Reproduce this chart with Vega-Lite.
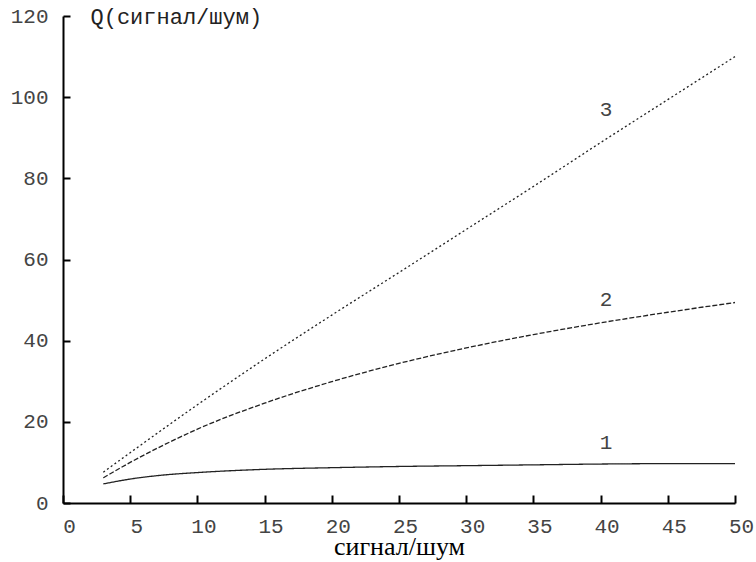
{
  "$schema": "https://vega.github.io/schema/vega-lite/v6.json",
  "width": 672,
  "height": 487,
  "autosize": "none",
  "padding": {"left": 63, "top": 16, "right": 21, "bottom": 59},
  "background": "white",
  "config": {"view": {"stroke": null}},
  "datasets": {
    "curves": [
      {"x": 3, "q": 4.7, "curve": "1"}, {"x": 5, "q": 5.9, "curve": "1"}, {"x": 7.5, "q": 6.9, "curve": "1"}, {"x": 10, "q": 7.5, "curve": "1"}, {"x": 15, "q": 8.3, "curve": "1"}, {"x": 20, "q": 8.7, "curve": "1"}, {"x": 25, "q": 9.0, "curve": "1"}, {"x": 30, "q": 9.2, "curve": "1"}, {"x": 35, "q": 9.4, "curve": "1"}, {"x": 40, "q": 9.6, "curve": "1"}, {"x": 45, "q": 9.7, "curve": "1"}, {"x": 50, "q": 9.7, "curve": "1"},
      {"x": 3, "q": 6.2, "curve": "2"}, {"x": 5, "q": 10.0, "curve": "2"}, {"x": 7.5, "q": 14.3, "curve": "2"}, {"x": 10, "q": 18.2, "curve": "2"}, {"x": 15, "q": 24.6, "curve": "2"}, {"x": 20, "q": 29.9, "curve": "2"}, {"x": 25, "q": 34.4, "curve": "2"}, {"x": 30, "q": 38.2, "curve": "2"}, {"x": 35, "q": 41.5, "curve": "2"}, {"x": 40, "q": 44.4, "curve": "2"}, {"x": 45, "q": 47.0, "curve": "2"}, {"x": 50, "q": 49.4, "curve": "2"},
      {"x": 3, "q": 7.6, "curve": "3"}, {"x": 5, "q": 12.4, "curve": "3"}, {"x": 10, "q": 24.2, "curve": "3"}, {"x": 15, "q": 35.5, "curve": "3"}, {"x": 20, "q": 46.3, "curve": "3"}, {"x": 25, "q": 56.8, "curve": "3"}, {"x": 30, "q": 67.4, "curve": "3"}, {"x": 35, "q": 78.0, "curve": "3"}, {"x": 40, "q": 88.8, "curve": "3"}, {"x": 45, "q": 99.4, "curve": "3"}, {"x": 50, "q": 110.0, "curve": "3"}
    ],
    "labels": [
      {"x": 40.4, "q": 14.8, "label": "1"},
      {"x": 40.4, "q": 50.0, "label": "2"},
      {"x": 40.4, "q": 96.8, "label": "3"}
    ]
  },
  "layer": [
    {
      "data": {"name": "curves"},
      "mark": {"type": "line", "interpolate": "monotone", "color": "#222222"},
      "encoding": {
        "x": {
          "field": "x", "type": "quantitative",
          "scale": {"domain": [0, 50], "nice": false, "zero": false},
          "axis": {
            "values": [0, 5, 10, 15, 20, 25, 30, 35, 40, 45, 50],
            "grid": false,
            "domainColor": "#000000", "domainWidth": 2,
            "tickColor": "#000000", "tickWidth": 2, "tickSize": -8,
            "labelFont": "Liberation Mono", "labelFontSize": 21, "labelColor": "#444444",
            "labelPadding": 20, "labelOffset": 6, "labelFlush": false, "labelBaseline": "top",
            "title": "сигнал/шум",
            "titleFont": "Liberation Serif", "titleFontSize": 26, "titleFontWeight": "normal", "titleColor": "#000000",
            "titleBaseline": "alphabetic", "titleY": 51, "titleX": 336, "titleAlign": "center"
          }
        },
        "y": {
          "field": "q", "type": "quantitative",
          "scale": {"domain": [0, 120], "nice": false},
          "axis": {
            "values": [0, 20, 40, 60, 80, 100, 120],
            "grid": false,
            "domainColor": "#000000", "domainWidth": 2,
            "tickColor": "#000000", "tickWidth": 2, "tickSize": -7,
            "labelFont": "Liberation Mono", "labelFontSize": 21, "labelColor": "#444444",
            "labelPadding": 22, "labelFlush": false,
            "title": "Q(сигнал/шум)",
            "titleFont": "Liberation Mono", "titleFontSize": 22, "titleFontWeight": "normal", "titleColor": "#222222",
            "titleAngle": 0, "titleAlign": "left", "titleBaseline": "middle", "titleX": 27, "titleY": 0
          }
        },
        "strokeDash": {
          "field": "curve", "type": "nominal",
          "scale": {"domain": ["1", "2", "3"], "range": [[1, 0], [5, 2], [2, 2.6]]},
          "legend": null
        },
        "strokeWidth": {
          "field": "curve", "type": "nominal",
          "scale": {"domain": ["1", "2", "3"], "range": [1.3, 1.3, 1.6]},
          "legend": null
        }
      }
    },
    {
      "data": {"name": "labels"},
      "mark": {"type": "text", "font": "Liberation Mono", "fontSize": 21, "color": "#444444", "align": "center", "baseline": "middle"},
      "encoding": {
        "x": {"field": "x", "type": "quantitative"},
        "y": {"field": "q", "type": "quantitative"},
        "text": {"field": "label", "type": "nominal"}
      }
    }
  ]
}
